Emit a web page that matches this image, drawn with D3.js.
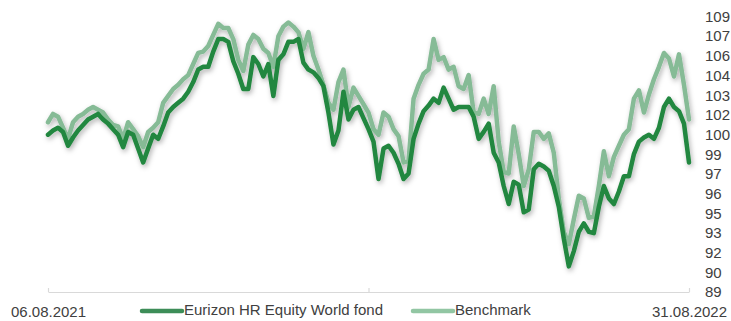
<!DOCTYPE html>
<html>
<head>
<meta charset="utf-8">
<script src="https://cdn.jsdelivr.net/npm/d3@7"></script>
<style>
  body { margin: 0; background: #fff; }
  text { font-family: "Liberation Sans", Arial, sans-serif; font-size: 15px; fill: #404040; }
</style>
</head>
<body>
<svg id="chart" width="731" height="321"></svg>
<script>
// values, equally spaced in time
var fund = [
  100.2, 100.5, 100.7, 100.4, 99.4, 100.0, 100.5, 100.9, 101.3, 101.5,
  101.7, 101.3, 101.0, 100.6, 100.2, 99.3, 100.4, 100.2, 99.2, 98.2,
  99.2, 100.2, 99.9, 100.8, 101.8, 102.2, 102.5, 102.8, 103.3, 104.0,
  104.9, 105.1, 105.1, 106.2, 107.1, 107.1, 106.9, 105.5, 104.6, 103.5,
  103.5, 105.8, 105.3, 104.4, 105.3, 103.0, 105.6, 106.0, 106.9, 106.9,
  107.1, 105.4, 104.9, 104.7, 104.3, 103.7, 101.8, 99.5, 100.5, 103.3,
  101.3, 102.0, 102.2, 101.4, 100.6, 99.7, 97.0, 99.2, 99.4, 98.9,
  98.1, 97.0, 97.4, 99.9, 101.0, 101.9, 102.3, 102.8, 102.5, 103.6,
  102.8, 102.0, 102.2, 102.2, 102.2, 101.5, 99.9, 100.4, 101.0, 98.9,
  98.2, 96.5, 95.2, 96.8, 96.6, 94.6, 94.8, 97.7, 98.1, 97.9,
  97.6, 96.5, 95.0, 92.7, 90.7, 91.8, 93.2, 93.8, 93.2, 93.1,
  95.0, 96.5, 95.6, 95.2, 96.1, 97.2, 97.2, 98.8, 99.7, 100.0,
  100.2, 99.9, 100.7, 102.2, 102.8, 102.2, 101.9, 101.0, 98.2
];

var benchmark = [
  101.1, 101.7, 101.5, 100.7, 99.9, 101.1, 101.5, 101.7, 102.0, 102.2,
  102.0, 101.8, 101.3, 100.9, 100.8, 99.9, 101.1, 100.6, 100.1, 99.3,
  100.4, 100.7, 101.1, 102.5, 103.0, 103.5, 103.8, 104.2, 104.5, 105.3,
  106.1, 106.2, 106.6, 107.4, 108.2, 107.9, 107.9, 107.1, 105.6, 104.8,
  106.7, 107.4, 107.1, 106.4, 106.1, 105.1, 107.3, 108.0, 108.3, 108.0,
  107.6, 106.4, 107.6, 105.9, 104.9, 103.8, 102.5, 102.0, 104.0, 104.9,
  102.2, 103.6, 103.0, 102.4, 101.8, 100.6, 100.2, 101.8, 101.5, 100.6,
  100.1, 98.2, 98.3, 102.8, 103.8, 104.6, 104.9, 107.1, 105.6, 105.8,
  104.9, 105.1, 103.7, 103.5, 104.5, 101.8, 101.7, 102.8, 101.7, 103.7,
  99.7, 97.5, 97.4, 100.8, 98.8, 96.5, 97.7, 100.4, 100.4, 99.9,
  100.3, 98.9, 95.6, 93.2, 92.3, 94.1, 95.8, 95.6, 94.2, 94.3,
  96.5, 99.0, 97.2, 98.6, 99.4, 100.2, 100.6, 102.8, 103.4, 101.8,
  103.1, 104.2, 105.1, 106.1, 105.7, 104.4, 106.0, 103.8, 101.3
];

var seriesNames = ["Eurizon HR Equity World fond", "Benchmark"];
var seriesColors = ["#21873f", "#86bb96"];
var legendColors = ["#3d8d58", "#92c6a3"];

var xTickLabels = ["06.08.2021", "", "31.08.2022"];
var yTicks = [88.85, 90.27, 91.69, 93.11, 94.53, 95.95, 97.37, 98.79,
              100.21, 101.63, 103.05, 104.47, 105.89, 107.31, 108.73];

var svg = d3.select("#chart"),
    n = fund.length;

var x = d3.scaleLinear().domain([0, n - 1]).range([48, 689]),
    y = d3.scaleLinear().domain([yTicks[0], yTicks[yTicks.length - 1]]).range([292, 16.5]);

// soft shadow like the office chart
var f = svg.append("defs").append("filter")
    .attr("id", "shadow")
    .attr("x", "-5%").attr("y", "-10%")
    .attr("width", "110%").attr("height", "130%");
f.append("feDropShadow")
    .attr("dx", 1.5).attr("dy", 2.5)
    .attr("stdDeviation", 2.5)
    .attr("flood-color", "#000")
    .attr("flood-opacity", 0.3);

// x axis: light line, ticks pointing up
var xAxis = svg.append("g")
    .attr("transform", "translate(0," + y(yTicks[0]) + ")")
    .call(d3.axisBottom(x)
      .tickValues([0, (n - 1) / 2, n - 1])
      .tickSizeInner(-4)
      .tickSizeOuter(0)
      .tickPadding(14)
      .tickFormat(function(d, i) { return xTickLabels[i]; }));
xAxis.select(".domain").attr("stroke", "#d9d9d9").attr("stroke-width", 1.2);
xAxis.selectAll(".tick line").attr("stroke", "#d9d9d9").attr("stroke-width", 1.2);
xAxis.selectAll(".tick text")
    .style("font-family", "'Liberation Sans', Arial, sans-serif")
    .style("font-size", "15px")
    .attr("fill", "#404040");

// y axis on the right, labels only
var yAxis = svg.append("g")
    .attr("transform", "translate(700,0)")
    .call(d3.axisRight(y)
      .tickValues(yTicks)
      .tickSize(0)
      .tickPadding(5)
      .tickFormat(d3.format(".0f")));
yAxis.select(".domain").remove();
yAxis.selectAll(".tick text")
    .style("font-family", "'Liberation Sans', Arial, sans-serif")
    .style("font-size", "15px")
    .attr("fill", "#404040");

var line = d3.line()
    .x(function(d, i) { return x(i); })
    .y(function(d) { return y(d); });

var g = svg.append("g").attr("filter", "url(#shadow)");

g.append("path")
    .datum(benchmark)
    .attr("fill", "none")
    .attr("stroke", seriesColors[1])
    .attr("stroke-width", 4.5)
    .attr("stroke-linejoin", "round")
    .attr("stroke-linecap", "round")
    .attr("d", line);

g.append("path")
    .datum(fund)
    .attr("fill", "none")
    .attr("stroke", seriesColors[0])
    .attr("stroke-width", 4.5)
    .attr("stroke-linejoin", "round")
    .attr("stroke-linecap", "round")
    .attr("d", line);

// legend
var legendX = [142, 413];
var legend = svg.selectAll(".legend")
    .data(seriesNames)
    .enter().append("g")
      .attr("class", "legend")
      .attr("transform", function(d, i) { return "translate(" + legendX[i] + ",311)"; });

legend.append("line")
    .attr("x1", 0).attr("x2", 40)
    .attr("stroke", function(d, i) { return legendColors[i]; })
    .attr("stroke-width", 4.5)
    .attr("stroke-linecap", "round");

legend.append("text")
    .attr("x", 42)
    .attr("y", 4)
    .text(function(d) { return d; });
</script>
</body>
</html>
